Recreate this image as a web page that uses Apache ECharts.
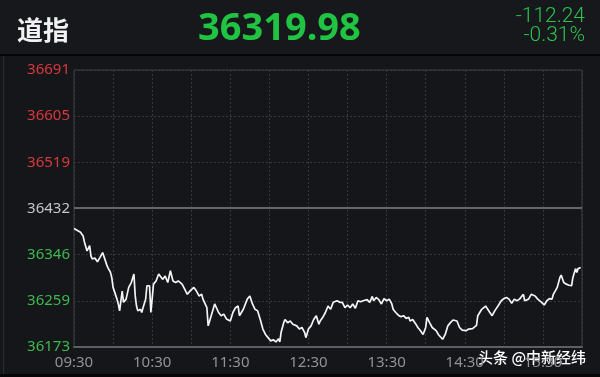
<!DOCTYPE html>
<html><head><meta charset="utf-8">
<script src="https://cdn.jsdelivr.net/npm/echarts@6/dist/echarts.min.js"></script>
<style>html,body{margin:0;padding:0;background:#15161a;}#c{width:600px;height:377px;}</style>
</head><body><div id="c"></div>
<script>
// minutes since 09:30
const minutes = [0,5,7,8,10,12,13,14,16,18,20,22,25,26,28,29,30,31,33,34,35,37,38,40,42,44,46,47,48,49,51,52,53,55,56,58,59,60,61,63,65,66,68,70,72,74,76,78,80,83,84,87,89,90,92,94,96,98,99,102,103,105,106,108,111,113,115,117,118,120,122,124,126,127,130,131,133,135,137,139,141,143,145,147,149,151,153,155,157,158,159,161,162,164,166,168,171,173,175,177,178,180,182,184,186,188,189,191,193,195,197,199,202,204,206,208,210,212,214,216,218,220,222,223,225,227,229,230,232,234,236,238,240,242,244,245,247,249,251,253,255,257,258,260,263,264,266,268,270,271,273,275,278,280,283,285,287,289,291,292,294,296,298,301,303,306,309,310,311,313,316,317,319,321,323,326,328,330,332,334,336,338,340,342,345,346,349,351,354,356,359,361,363,365,367,368,371,373,374,376,378,380,382,383,385,386,387,389];
const values = [36393,36386,36379,36368,36351,36361,36342,36336,36338,36331,36339,36348,36326,36320,36311,36301,36283,36286,36261,36252,36239,36276,36255,36261,36283,36292,36308,36267,36248,36239,36242,36236,36245,36261,36286,36286,36236,36261,36289,36295,36308,36308,36298,36304,36292,36314,36295,36292,36295,36289,36292,36270,36276,36273,36283,36276,36267,36270,36261,36245,36211,36227,36225,36252,36236,36230,36233,36224,36227,36220,36236,36245,36248,36230,36242,36245,36261,36267,36252,36242,36239,36223,36205,36195,36189,36183,36185,36181,36187,36181,36199,36217,36223,36217,36220,36214,36211,36205,36208,36199,36189,36205,36211,36223,36230,36214,36220,36227,36236,36248,36242,36255,36258,36255,36255,36245,36250,36245,36252,36244,36258,36256,36258,36255,36260,36255,36266,36258,36264,36260,36252,36262,36258,36261,36252,36242,36236,36231,36228,36230,36225,36227,36220,36223,36212,36208,36202,36195,36208,36227,36217,36208,36202,36194,36186,36195,36211,36217,36222,36225,36220,36208,36203,36202,36205,36206,36212,36230,36233,36242,36248,36245,36237,36230,36239,36250,36258,36262,36264,36261,36253,36261,36258,36261,36270,36258,36261,36270,36267,36261,36255,36250,36258,36262,36261,36270,36283,36301,36306,36292,36289,36287,36286,36301,36318,36311,36318,36320];
const xLabels = ['09:30','10:30','11:30','12:30','13:30','14:30','15:30'];
const yLabels = ['36173','36259','36346','36432','36519','36605','36691'];
const prevClose = 36432.22;
const header = {name:'道指', last:'36319.98', change:'-112.24', pct:'-0.31%'};

const Y_INT = 86.328125, Y_MIN = 419 * Y_INT, Y_MAX = 425 * Y_INT;
const chart = echarts.init(document.getElementById('c'), null, {renderer:'canvas'});
const idx = v => Math.round((v - Y_MIN) / Y_INT);
chart.setOption({
  backgroundColor: '#15161a',
  animation: false,
  grid: {left: 74, right: 18, top: 70, bottom: 30, show: true, borderColor: '#3c3f46', borderWidth: 1},
  xAxis: {
    type: 'value', min: 0, max: 390, interval: 30,
    axisLine: {show: true, lineStyle: {color: '#5c5f66', width: 2}},
    axisTick: {show: false},
    splitLine: {show: true, lineStyle: {color: '#34373e', type: [2, 2], width: 1}},
    axisLabel: {color: '#8f9297', fontSize: 15, fontFamily: 'Noto Sans', margin: 8,
      formatter: v => (v % 60 === 0 ? xLabels[v / 60] : '')}
  },
  yAxis: {
    type: 'value', min: Y_MIN, max: Y_MAX, interval: Y_INT,
    axisLine: {show: false}, axisTick: {show: false},
    splitLine: {show: true, lineStyle: {color: '#34373e', type: [2, 2], width: 1}},
    axisLabel: {fontSize: 15, fontFamily: 'Noto Sans', margin: 4,
      formatter: v => yLabels[idx(v)] || '',
      color: v => { const i = idx(v); return i > 3 ? '#d9383c' : (i === 3 ? '#c4c6ca' : '#3db94e'); }}
  },
  series: [{
    type: 'line', data: minutes.map((m, i) => [m, values[i]]),
    showSymbol: false, symbol: 'none',
    lineStyle: {color: '#f4f4f4', width: 1.7},
    markLine: {silent: true, symbol: 'none', label: {show: false},
      lineStyle: {color: '#63666d', type: 'solid', width: 2},
      data: [{yAxis: prevClose}]}
  }],
  graphic: [
    {type: 'rect', shape: {x: 0, y: 0, width: 600, height: 54}, style: {fill: '#17181c'}, z: -1},
    {type: 'rect', shape: {x: 0, y: 54, width: 600, height: 2}, style: {fill: '#060607'}},
    {type: 'rect', shape: {x: 0, y: 374, width: 600, height: 3}, style: {fill: '#060607'}},
    {type: 'rect', shape: {x: 3, y: 56, width: 1, height: 318}, style: {fill: '#2a2c31'}},
    {type: 'text', x: 17, y: 30, style: {text: header.name, fill: '#f2f2f2', font: 'bold 26px "Noto Sans CJK SC"', verticalAlign: 'middle'}},
    {type: 'text', x: 198, y: 29, style: {text: header.last, fill: '#21c442', font: 'bold 38px "Noto Sans"', verticalAlign: 'middle'}},
    {type: 'text', x: 585, y: 17, style: {text: header.change, fill: '#2bc14d', font: '300 21px Roboto', align: 'right', verticalAlign: 'middle'}},
    {type: 'text', x: 585, y: 36, style: {text: header.pct, fill: '#2bc14d', font: '300 21px Roboto', align: 'right', verticalAlign: 'middle'}},
    {type: 'text', x: 478, y: 357, style: {text: '头条 @中新经纬', fill: '#ffffff', font: '500 15px "Noto Sans CJK SC"', verticalAlign: 'middle', shadowColor: 'rgba(0,0,0,0.9)', shadowBlur: 3}}
  ]
});
</script></body></html>
